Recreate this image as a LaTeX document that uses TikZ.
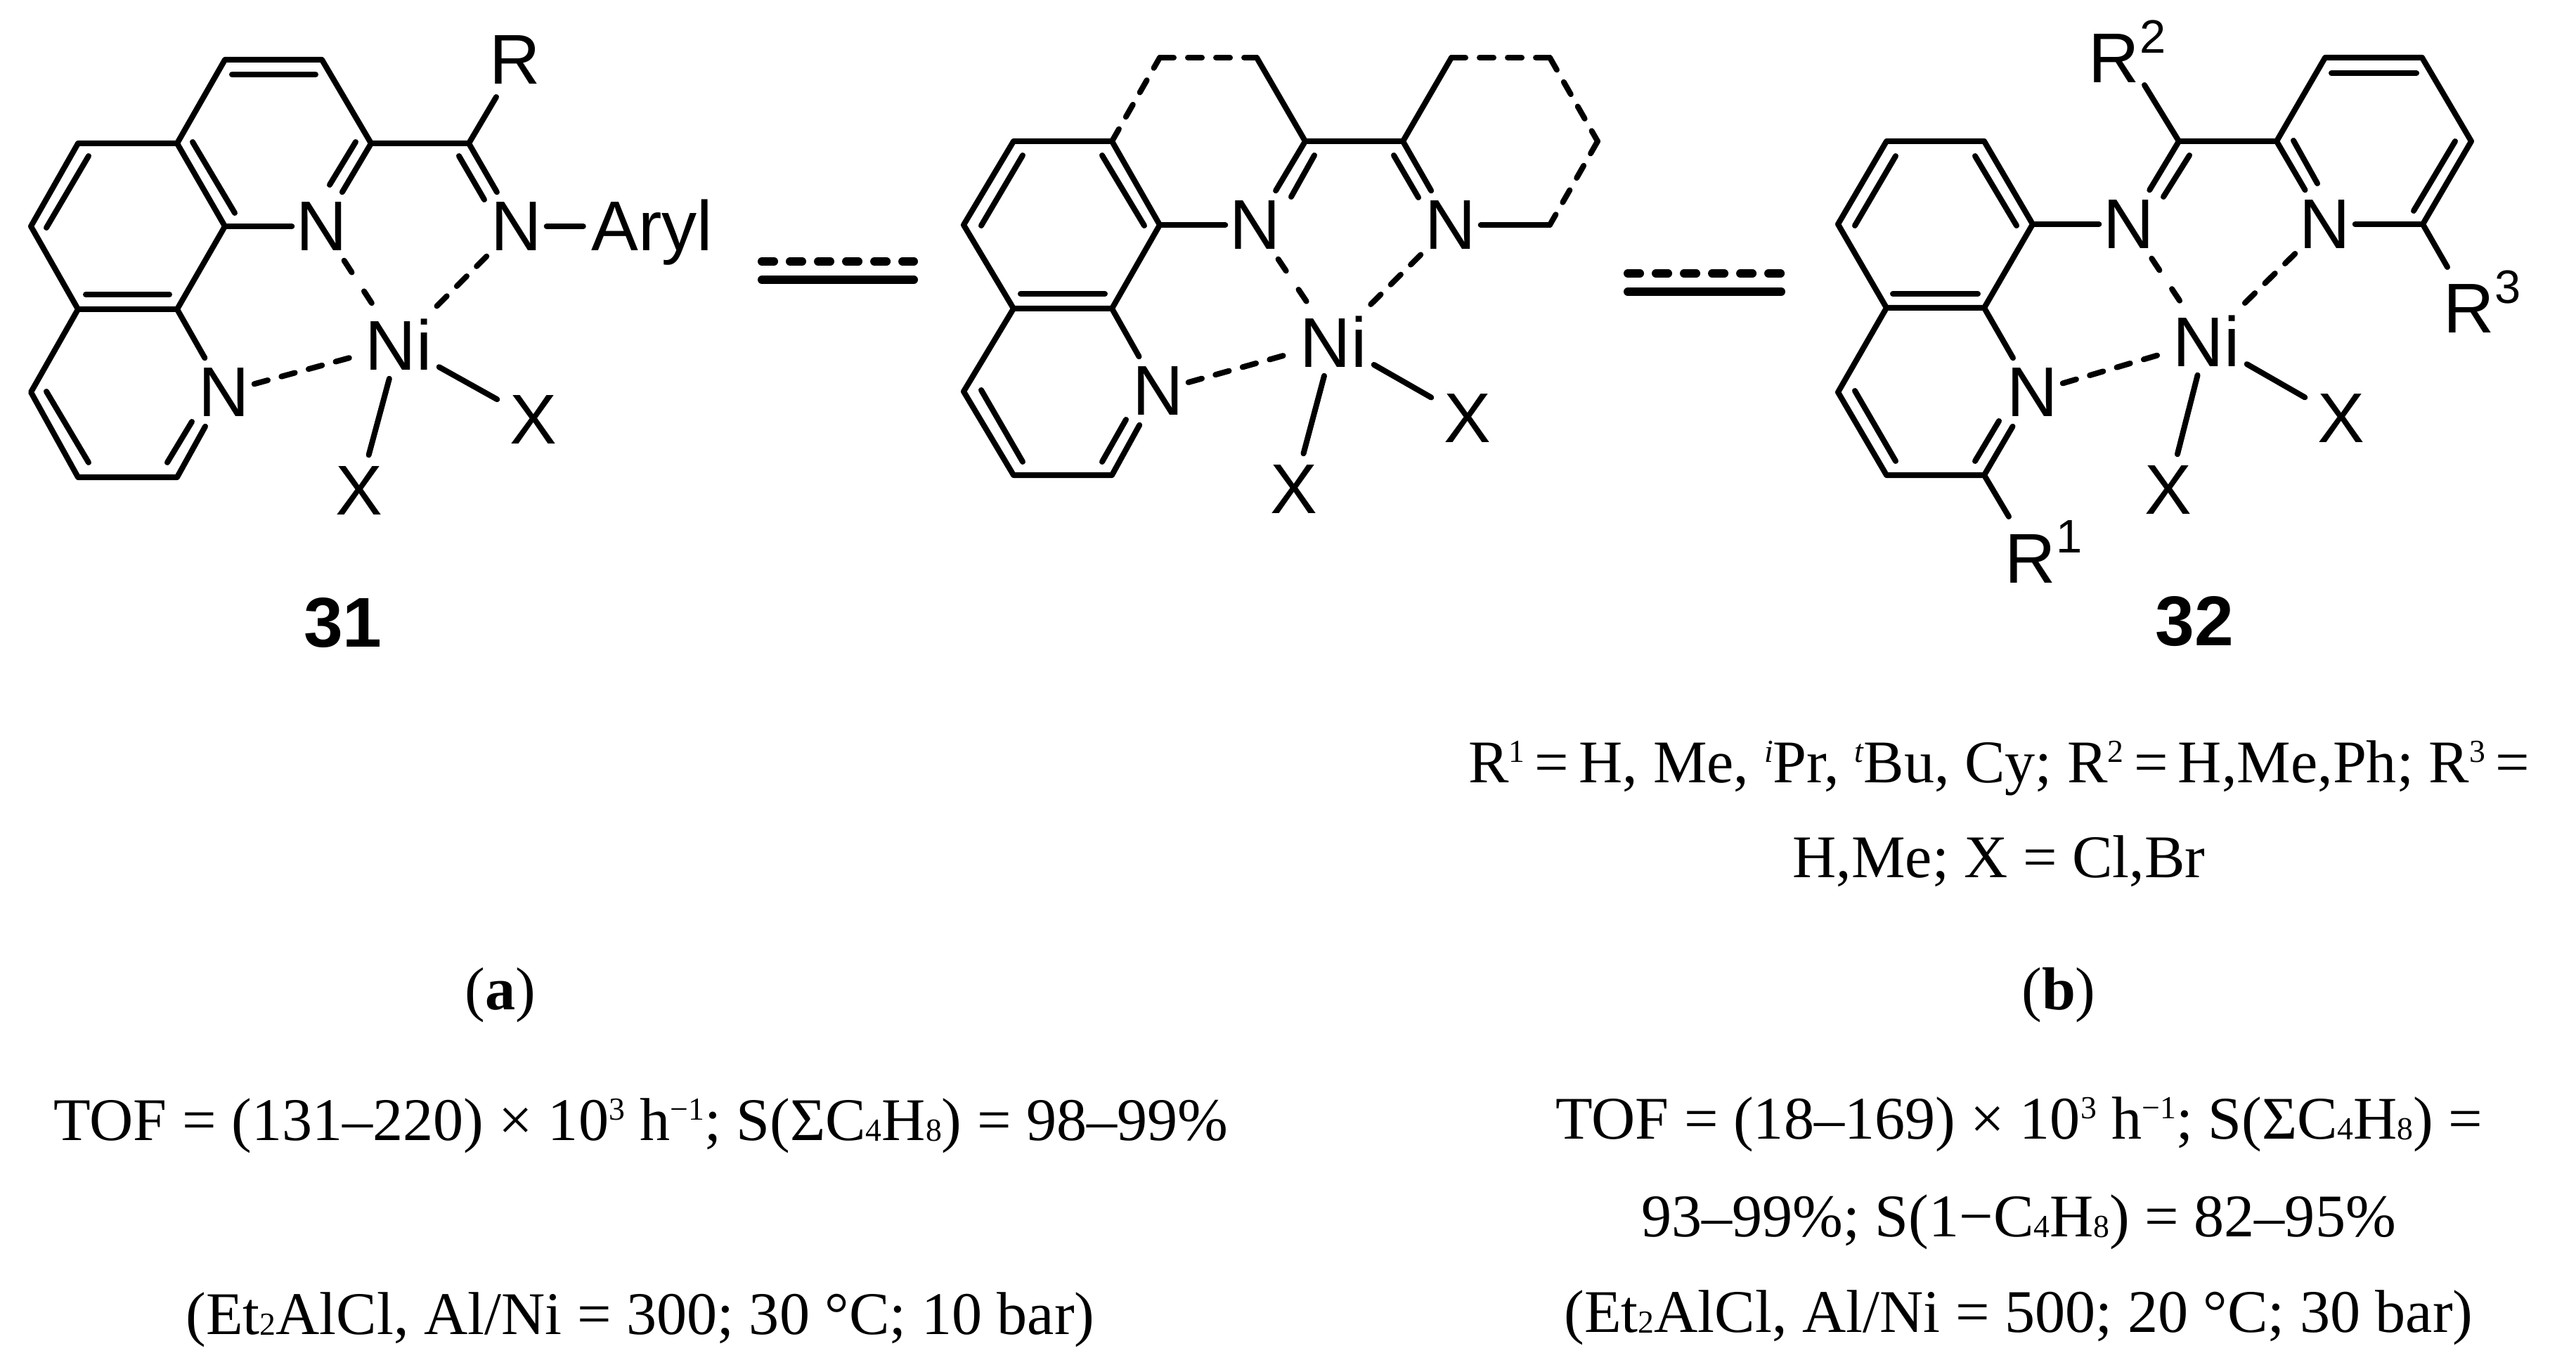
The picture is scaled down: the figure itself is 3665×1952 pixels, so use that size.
\documentclass[tikz,border=0pt]{standalone}
\usepackage{fontspec}
\setmainfont{Liberation Serif}
\setsansfont{Liberation Sans}
\usetikzlibrary{positioning}

\newcommand{\rsup}[1]{\raisebox{.42cm}{\fontsize{19}{19}\selectfont #1}}
\newcommand{\supnum}[1]{\raisebox{.28cm}{\fontsize{13}{13}\selectfont #1}}
\newcommand{\subnum}[1]{\raisebox{-.01cm}{\fontsize{13}{13}\selectfont #1}}

\begin{document}
\begin{tikzpicture}[
    x=0.01cm, y=-0.01cm,
    atom/.style={font=\fontsize{28.5}{30}\selectfont\sffamily, inner sep=0pt, minimum width=.84cm, minimum height=.96cm},
    metal/.style={atom, minimum width=1.14cm},
    halide/.style={atom, minimum width=1.02cm, minimum height=1cm},
    tag/.style={font=\fontsize{28.5}{30}\selectfont\sffamily\bfseries, inner sep=0pt},
    note/.style={font=\fontsize{24.5}{30}\selectfont, anchor=base, inner sep=0pt},
    bond/.style={line width=.08cm, line cap=round, line join=round},
    weak/.style={bond, dash pattern=on .2cm off .2cm},
    weakshort/.style={bond, dash pattern=on .2cm off .32cm},
    eqline/.style={line width=.12cm, line cap=round}
]
\path[use as bounding box] (0,0) rectangle (3665,1952);

% Complex 31
\coordinate (c1_a) at (320,85);
\coordinate (c2_a) at (458,85);
\coordinate (c3_a) at (528,204);
\coordinate (c4_a) at (252,204);
\coordinate (c5_a) at (111,204);
\coordinate (c6_a) at (44,322);
\coordinate (c7_a) at (111,440);
\coordinate (c8_a) at (252,440);
\coordinate (c9_a) at (320,322);
\coordinate (c10_a) at (44,558);
\coordinate (c11_a) at (111,679);
\coordinate (c12_a) at (252,679);
\coordinate (c13_a) at (667,204);
\coordinate (r_end_a) at (706,138);

\node[atom] (n1_a) at (458,322) {N};
\node[atom] (n2_a) at (735,322) {N};
\node[atom] (n3_a) at (319,558) {N};
\node[metal] (ni_a) at (567,490) {Ni};
\node[halide] (x1_a) at (759,597) {X};
\node[halide] (x2_a) at (511,698) {X};
\node[atom] (r_a) at (733,85) {R};
\node[atom, base right=.52cm of n2_a, inner xsep=.11cm] (aryl) {Aryl};
\node[tag] (label_a) at (488,886) {31};

\draw[bond] (c4_a) -- (c1_a) -- (c2_a) -- (c3_a) -- (c13_a) -- (r_end_a);
\draw[bond] (c9_a) -- (c4_a) -- (c5_a) -- (c6_a) -- (c7_a) -- (c8_a) -- (c9_a);
\draw[bond] (c7_a) -- (c10_a) -- (c11_a) -- (c12_a) -- (n3_a);
\draw[bond] (c9_a) -- (n1_a);
\draw[bond] (c3_a) -- (n1_a);
\draw[bond] (c13_a) -- (n2_a);
\draw[bond] (c8_a) -- (n3_a);
\draw[bond] (n2_a) -- (n2_a -| aryl.west);
\draw[bond] (ni_a) -- (x1_a);
\draw[bond] (ni_a) -- (x2_a);
\draw[weakshort] (n1_a) -- (ni_a);
\draw[weak] (n2_a) -- (ni_a);
\draw[weak] (n3_a) -- (ni_a);

% Inner lines of 31
\coordinate (d1s_a) at (330,106); \coordinate (d1e_a) at (449,106);
\coordinate (d2s_a) at (274,202); \coordinate (d2e_a) at (334,303);
\coordinate (d3s_a) at (126,222); \coordinate (d3e_a) at (66,324);
\coordinate (d4s_a) at (122,419); \coordinate (d4e_a) at (241,419);
\coordinate (d5s_a) at (66,557); \coordinate (d5e_a) at (126,658);
\coordinate (d6s_a) at (506,202); \coordinate (d6e_a) at (469,263);
\coordinate (d7s_a) at (653,222); \coordinate (d7e_a) at (689,284);
\coordinate (d8s_a) at (273,600); \coordinate (d8e_a) at (238,658);
\draw[bond] (d1s_a) -- (d1e_a);
\draw[bond] (d2s_a) -- (d2e_a);
\draw[bond] (d3s_a) -- (d3e_a);
\draw[bond] (d4s_a) -- (d4e_a);
\draw[bond] (d5s_a) -- (d5e_a);
\draw[bond] (d6s_a) -- (d6e_a);
\draw[bond] (d7s_a) -- (d7e_a);
\draw[bond] (d8s_a) -- (d8e_a);

% First equilibrium
\coordinate (eq1s_top) at (1084,372); \coordinate (eq1e_top) at (1300,372);
\coordinate (eq1s_low) at (1084,398); \coordinate (eq1e_low) at (1300,398);
\draw[eqline, dash pattern=on .17cm off .23cm] (eq1s_top) -- (eq1e_top);
\draw[eqline] (eq1s_low) -- (eq1e_low);

% Middle complex
\coordinate (c1_m) at (1650,82);
\coordinate (c2_m) at (1788,82);
\coordinate (c3_m) at (1857,201);
\coordinate (c4_m) at (1582,201);
\coordinate (c5_m) at (1442,201);
\coordinate (c6_m) at (1371,320);
\coordinate (c7_m) at (1442,439);
\coordinate (c8_m) at (1582,439);
\coordinate (c9_m) at (1650,320);
\coordinate (c10_m) at (1371,557);
\coordinate (c11_m) at (1442,676);
\coordinate (c12_m) at (1582,676);
\coordinate (c13_m) at (1996,201);
\coordinate (c14_m) at (2065,82);
\coordinate (c15_m) at (2205,82);
\coordinate (c16_m) at (2273,201);
\coordinate (c17_m) at (2205,320);

\node[atom] (n1_m) at (1786,320) {N};
\node[atom] (n2_m) at (2064,320) {N};
\node[atom] (n3_m) at (1648,556) {N};
\node[metal] (ni_m) at (1897,486) {Ni};
\node[halide] (x1_m) at (2088,595) {X};
\node[halide] (x2_m) at (1841,696) {X};

\draw[bond] (c2_m) -- (c3_m) -- (c13_m) -- (c14_m);
\draw[bond] (c9_m) -- (c4_m) -- (c5_m) -- (c6_m) -- (c7_m) -- (c8_m) -- (c9_m);
\draw[bond] (c7_m) -- (c10_m) -- (c11_m) -- (c12_m) -- (n3_m);
\draw[bond] (c9_m) -- (n1_m);
\draw[bond] (c3_m) -- (n1_m);
\draw[bond] (c13_m) -- (n2_m);
\draw[bond] (c8_m) -- (n3_m);
\draw[bond] (n2_m) -- (c17_m);
\draw[bond] (ni_m) -- (x1_m);
\draw[bond] (ni_m) -- (x2_m);
\draw[weakshort] (n1_m) -- (ni_m);
\draw[weak] (n2_m) -- (ni_m);
\draw[weak] (n3_m) -- (ni_m);
\draw[weak] (c4_m) -- (c1_m);
\draw[weak] (c1_m) -- (c2_m);
\draw[weak] (c14_m) -- (c15_m);
\draw[weak] (c15_m) -- (c16_m);
\draw[weak] (c16_m) -- (c17_m);

% Inner lines of the middle complex
\coordinate (d1s_m) at (1568,221); \coordinate (d1e_m) at (1628,321);
\coordinate (d2s_m) at (1455,221); \coordinate (d2e_m) at (1396,321);
\coordinate (d3s_m) at (1452,418); \coordinate (d3e_m) at (1572,418);
\coordinate (d4s_m) at (1396,555); \coordinate (d4e_m) at (1455,657);
\coordinate (d5s_m) at (1870,221); \coordinate (d5e_m) at (1837,280);
\coordinate (d6s_m) at (1983,221); \coordinate (d6e_m) at (2018,281);
\coordinate (d7s_m) at (1602,597); \coordinate (d7e_m) at (1568,657);
\draw[bond] (d1s_m) -- (d1e_m);
\draw[bond] (d2s_m) -- (d2e_m);
\draw[bond] (d3s_m) -- (d3e_m);
\draw[bond] (d4s_m) -- (d4e_m);
\draw[bond] (d5s_m) -- (d5e_m);
\draw[bond] (d6s_m) -- (d6e_m);
\draw[bond] (d7s_m) -- (d7e_m);

% Second equilibrium
\coordinate (eq2s_top) at (2316,389); \coordinate (eq2e_top) at (2534,389);
\coordinate (eq2s_low) at (2316,415); \coordinate (eq2e_low) at (2534,415);
\draw[eqline, dash pattern=on .17cm off .23cm] (eq2s_top) -- (eq2e_top);
\draw[eqline] (eq2s_low) -- (eq2e_low);

% Complex 32
\coordinate (c1_b) at (2684,201);
\coordinate (c2_b) at (2823,201);
\coordinate (c3_b) at (2892,319);
\coordinate (c4_b) at (2823,438);
\coordinate (c5_b) at (2684,438);
\coordinate (c6_b) at (2615,319);
\coordinate (c7_b) at (2615,558);
\coordinate (c8_b) at (2684,676);
\coordinate (c9_b) at (2823,676);
\coordinate (c10_b) at (3100,201);
\coordinate (c11_b) at (3239,201);
\coordinate (c12_b) at (3308,82);
\coordinate (c13_b) at (3446,82);
\coordinate (c14_b) at (3516,201);
\coordinate (c15_b) at (3447,319);
\coordinate (r1_end) at (2858,735);
\coordinate (r2_end) at (3051,121);
\coordinate (r3_end) at (3482,380);

\node[atom] (n1_b) at (3029,319) {N};
\node[atom] (n2_b) at (3308,319) {N};
\node[atom] (n3_b) at (2892,558) {N};
\node[metal] (ni_b) at (3139,485) {Ni};
\node[halide] (x1_b) at (3331,595) {X};
\node[halide] (x2_b) at (3085,697) {X};
\node[atom, anchor=base west, minimum width=0pt, minimum height=0pt] (r1) at (2852,829) {R\rsup{1}};
\node[atom, anchor=base west, minimum width=0pt, minimum height=0pt] (r2) at (2971,118) {R\rsup{2}};
\node[atom, anchor=base west, minimum width=0pt, minimum height=0pt] (r3) at (3476,474) {R\rsup{3}};
\node[tag] (label_b) at (3122,884) {32};

\draw[bond] (c6_b) -- (c1_b) -- (c2_b) -- (c3_b) -- (c4_b) -- (c5_b) -- (c6_b);
\draw[bond] (c5_b) -- (c7_b) -- (c8_b) -- (c9_b) -- (n3_b);
\draw[bond] (c3_b) -- (n1_b);
\draw[bond] (c4_b) -- (n3_b);
\draw[bond] (c9_b) -- (r1_end);
\draw[bond] (r2_end) -- (c10_b) -- (c11_b) -- (c12_b) -- (c13_b) -- (c14_b) -- (c15_b) -- (r3_end);
\draw[bond] (c10_b) -- (n1_b);
\draw[bond] (c11_b) -- (n2_b);
\draw[bond] (c15_b) -- (n2_b);
\draw[bond] (ni_b) -- (x1_b);
\draw[bond] (ni_b) -- (x2_b);
\draw[weakshort] (n1_b) -- (ni_b);
\draw[weak] (n2_b) -- (ni_b);
\draw[weak] (n3_b) -- (ni_b);

% Inner lines of 32
\coordinate (d1s_b) at (2697,222); \coordinate (d1e_b) at (2639,321);
\coordinate (d2s_b) at (2810,222); \coordinate (d2e_b) at (2869,321);
\coordinate (d3s_b) at (2693,418); \coordinate (d3e_b) at (2814,418);
\coordinate (d4s_b) at (2639,556); \coordinate (d4e_b) at (2697,656);
\coordinate (d5s_b) at (2844,599); \coordinate (d5e_b) at (2810,656);
\coordinate (d6s_b) at (3115,221); \coordinate (d6e_b) at (3078,280);
\coordinate (d7s_b) at (3263,200); \coordinate (d7e_b) at (3297,261);
\coordinate (d8s_b) at (3317,104); \coordinate (d8e_b) at (3438,104);
\coordinate (d9s_b) at (3493,201); \coordinate (d9e_b) at (3434,300);
\draw[bond] (d1s_b) -- (d1e_b);
\draw[bond] (d2s_b) -- (d2e_b);
\draw[bond] (d3s_b) -- (d3e_b);
\draw[bond] (d4s_b) -- (d4e_b);
\draw[bond] (d5s_b) -- (d5e_b);
\draw[bond] (d6s_b) -- (d6e_b);
\draw[bond] (d7s_b) -- (d7e_b);
\draw[bond] (d8s_b) -- (d8e_b);
\draw[bond] (d9s_b) -- (d9e_b);

% Text under the complexes
\node[note] (subst1) at (2844,1113) {R\supnum{1}\,=\,H, Me, \supnum{\itshape i}Pr, \supnum{\itshape t}Bu, Cy; R\supnum{2}\,=\,H,Me,Ph; R\supnum{3}\,=};
\node[note] (subst2) at (2844,1248) {H,Me; X = Cl,Br};
\node[note] (part_a) at (712,1436) {(\textbf{a})};
\node[note] (part_b) at (2929,1436) {(\textbf{b})};
\node[note] (tof_a) at (912,1622) {TOF = (131–220) × 10\supnum{3} h\supnum{−1}; S(ΣC\subnum{4}H\subnum{8}) = 98–99\%};
\node[note] (cond_a) at (911,1898) {(Et\subnum{2}AlCl, Al/Ni = 300; 30 °C; 10 bar)};
\node[note] (tof_b) at (2873,1620) {TOF = (18–169) × 10\supnum{3} h\supnum{−1}; S(ΣC\subnum{4}H\subnum{8}) =};
\node[note] (sel_b) at (2872,1759) {93–99\%; S(1−C\subnum{4}H\subnum{8}) = 82–95\%};
\node[note] (cond_b) at (2872,1895) {(Et\subnum{2}AlCl, Al/Ni = 500; 20 °C; 30 bar)};

\end{tikzpicture}
\end{document}
